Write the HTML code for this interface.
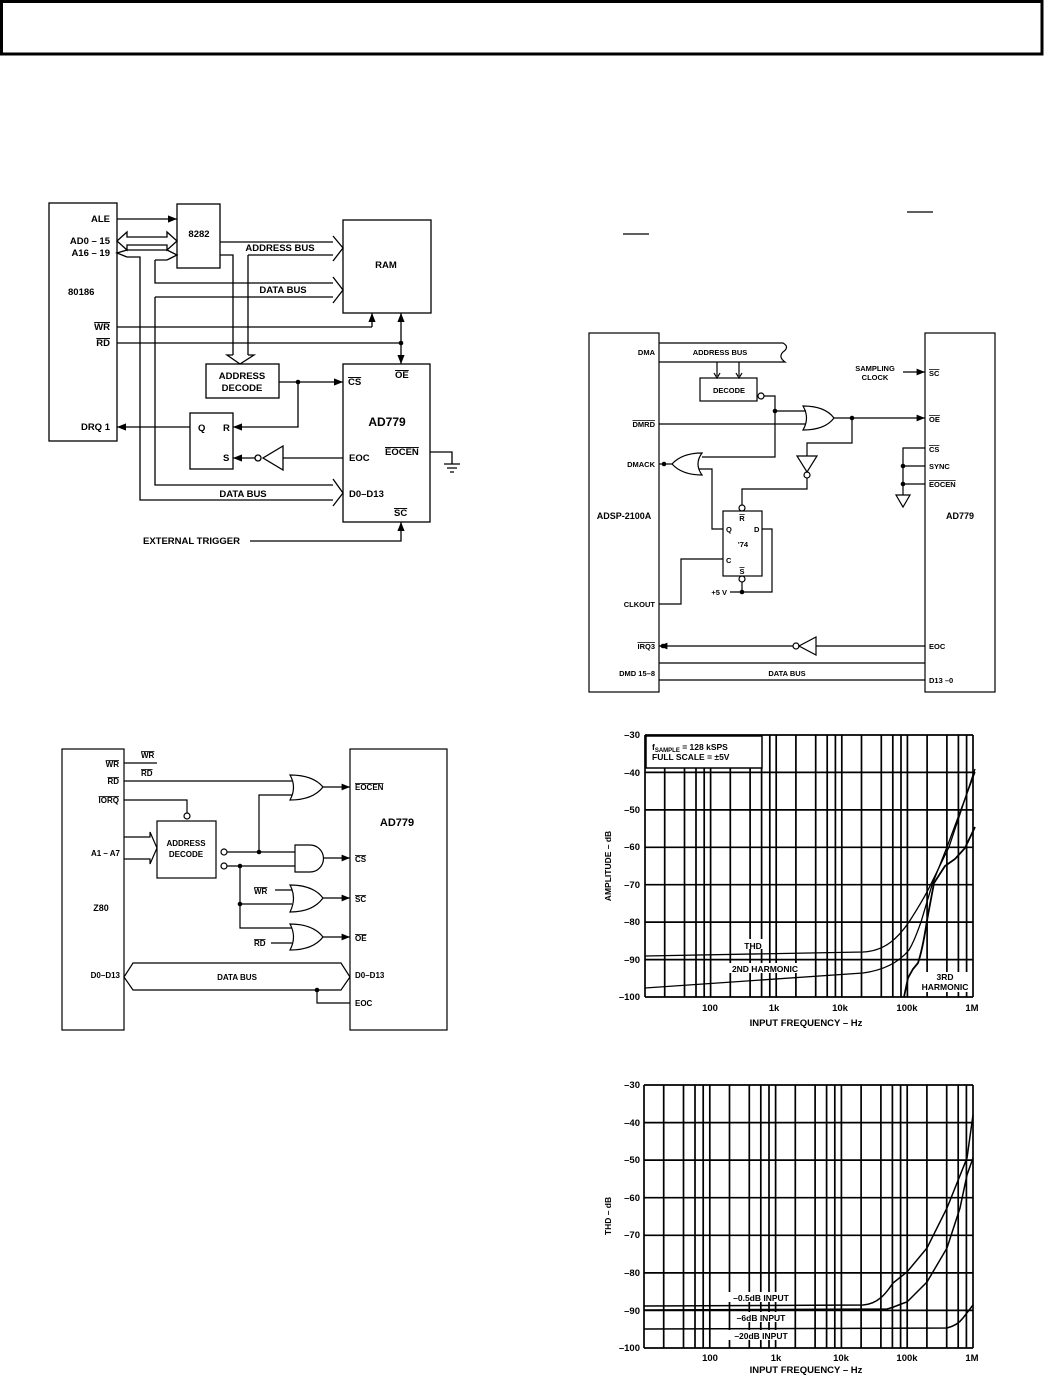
<!DOCTYPE html>
<html><head><meta charset="utf-8"><style>
html,body{margin:0;padding:0;background:#fff}
svg{display:block}
text{font-family:"Liberation Sans",Arial,sans-serif;font-weight:bold;font-size:9.5px;fill:#000}
.ov{text-decoration:overline}
</style></head><body>
<svg width="1044" height="1375" viewBox="0 0 1044 1375" xmlns="http://www.w3.org/2000/svg">
<defs>
<marker id="ar" viewBox="0 0 10 10" refX="10" refY="5" markerWidth="7" markerHeight="7" orient="auto-start-reverse"><path d="M0,1 L10,5 L0,9 Z" fill="#000"/></marker>
<g id="dec" stroke="#000" stroke-width="1.7">
<line x1="0" y1="0" x2="0" y2="263"/><line x1="19.7" y1="0" x2="19.7" y2="263"/><line x1="39.5" y1="0" x2="39.5" y2="263"/><line x1="51" y1="0" x2="51" y2="263"/><line x1="59.2" y1="0" x2="59.2" y2="263"/>
</g>
</defs>

<!-- header -->
<rect x="1.5" y="1.5" width="1040.5" height="52.5" fill="none" stroke="#000" stroke-width="3"/>
<line x1="907" y1="212" x2="933" y2="212" stroke="#000" stroke-width="1.2"/>
<line x1="623" y1="234" x2="649" y2="234" stroke="#000" stroke-width="1.2"/>

<!-- ===== Diagram 1 : 80186 ===== -->
<g fill="none" stroke="#000" stroke-width="1.3">
<rect x="49" y="203" width="68" height="238"/>
<rect x="177" y="204" width="43" height="64"/>
<rect x="343" y="220" width="88" height="93"/>
<rect x="206" y="364" width="73" height="34"/>
<rect x="190" y="413" width="43" height="56"/>
<rect x="343" y="364" width="87" height="158"/>
<line x1="117" y1="219" x2="177" y2="219" marker-end="url(#ar)"/>
<path d="M117,241 L127,232 L127,237 L167,237 L167,232 L177,241 L167,250 L167,245 L127,245 L127,250 Z" fill="#fff"/>
<path d="M127,250 L117,253 L127,257"/>
<path d="M127,250 L167,250 M127,257 L140,257 L140,500 L333,500"/>
<path d="M167,250 L177,255 L167,260"/>
<path d="M155,260 L167,260 M155,260 L155,283 L333,283"/>
<path d="M155,297 L333,297 M155,297 L155,485 L333,485"/>
<path d="M333,277 L343,290 L333,303"/>
<path d="M333,479 L343,493 L333,506"/>
<path d="M220,242 L333,242 M248,255 L333,255 M333,236 L343,248 L333,261"/>
<path d="M220,255 L233,255 L233,355 M248,255 L248,355"/>
<path d="M233,355 L227,355 L240,364 L254,355 L248,355" fill="#fff"/>
<line x1="117" y1="327" x2="372" y2="327"/>
<line x1="372" y1="327" x2="372" y2="313" marker-end="url(#ar)"/>
<line x1="117" y1="343" x2="401" y2="343"/>
<line x1="401" y1="330" x2="401" y2="313" marker-end="url(#ar)"/>
<line x1="401" y1="330" x2="401" y2="364" marker-end="url(#ar)"/>
<line x1="279" y1="382" x2="343" y2="382" marker-end="url(#ar)"/>
<path d="M298,382 L298,427 L233,427" marker-end="url(#ar)"/>
<line x1="190" y1="427" x2="117" y2="427" marker-end="url(#ar)"/>
<path d="M283,446 L283,470 L263,458 Z"/>
<circle cx="258" cy="458" r="3"/>
<line x1="283" y1="458" x2="343" y2="458"/>
<line x1="255" y1="458" x2="233" y2="458" marker-end="url(#ar)"/>
<path d="M430,452 L452,452 L452,464 M444,464 L460,464 M447,468 L457,468 M450,472 L454,472"/>
<path d="M250,541 L401,541 L401,522" marker-end="url(#ar)"/>
</g>
<g fill="#000"><circle cx="298" cy="382" r="2.3"/><circle cx="401" cy="343" r="2.3"/></g>
<g>
<text x="110" y="222" text-anchor="end">ALE</text>
<text x="110" y="244" text-anchor="end">AD0 – 15</text>
<text x="110" y="256" text-anchor="end">A16 – 19</text>
<text x="68" y="295">80186</text>
<text x="110" y="330" text-anchor="end" class="ov">WR</text>
<text x="110" y="346" text-anchor="end" class="ov">RD</text>
<text x="110" y="430" text-anchor="end">DRQ 1</text>
<text x="199" y="237" text-anchor="middle">8282</text>
<text x="280" y="251" text-anchor="middle">ADDRESS BUS</text>
<text x="283" y="293" text-anchor="middle">DATA BUS</text>
<text x="386" y="268" text-anchor="middle">RAM</text>
<text x="242" y="379" text-anchor="middle">ADDRESS</text>
<text x="242" y="391" text-anchor="middle">DECODE</text>
<text x="198" y="431">Q</text><text x="223" y="431">R</text><text x="223" y="461">S</text>
<text x="348" y="385" class="ov">CS</text>
<text x="395" y="378" class="ov">OE</text>
<text x="387" y="426" text-anchor="middle" style="font-size:12px">AD779</text>
<text x="349" y="461">EOC</text>
<text x="385" y="455" class="ov">EOCEN</text>
<text x="349" y="497">D0–D13</text>
<text x="243" y="497" text-anchor="middle">DATA BUS</text>
<text x="394" y="516" class="ov">SC</text>
<text x="143" y="544">EXTERNAL TRIGGER</text>
</g>

<!-- ===== Diagram 2 : ADSP-2100A ===== -->
<g fill="none" stroke="#000" stroke-width="1.2">
<rect x="589" y="333" width="70" height="359"/>
<rect x="925" y="333" width="70" height="359"/>
<path d="M659,343 L783,343 Q790,347 783,352 Q778,357 785,362 L659,362"/>
<path d="M717,362 L717,376 M739,362 L739,376"/>
<path d="M714,373 L717,378 L720,373 M736,373 L739,378 L742,373"/>
<rect x="700" y="378" width="57" height="23"/>
<circle cx="761" cy="396" r="3"/>
<path d="M764,396 L775,396 L775,457 L702,457"/>
<line x1="775" y1="411" x2="806" y2="411"/>
<line x1="659" y1="424" x2="806" y2="424"/>
<path d="M803,406 Q810,418 803,430 Q825,430 834,418 Q825,406 803,406 Z"/>
<line x1="834" y1="418" x2="925" y2="418" marker-end="url(#ar)"/>
<path d="M852,418 L852,443 L807,443 L807,456"/>
<path d="M797,456 L817,456 L807,472 Z"/>
<circle cx="807" cy="475" r="3"/>
<path d="M807,478 L807,489 L742,489 L742,505"/>
<circle cx="742" cy="508" r="3"/>
<path d="M702,453 Q694,464 702,475 Q682,475 672,464 Q682,453 702,453 Z"/>
<line x1="672" y1="464" x2="659" y2="464"/>
<path d="M699,469 L712,469 L712,529 L723,529"/>
<rect x="723" y="511" width="39" height="65"/>
<path d="M762,529 L772,529 L772,592 L730,592"/>
<circle cx="742" cy="579" r="3"/>
<line x1="742" y1="582" x2="742" y2="592"/>
<path d="M723,559 L681,559 L681,604 L659,604"/>
<path d="M816,637 L816,655 L799,646 Z"/>
<circle cx="796" cy="646" r="3"/>
<line x1="816" y1="646" x2="925" y2="646"/>
<line x1="793" y1="646" x2="659" y2="646" marker-end="url(#ar)"/>
<line x1="659" y1="663" x2="925" y2="663"/>
<line x1="659" y1="680" x2="925" y2="680"/>
<line x1="903" y1="372" x2="925" y2="372" marker-end="url(#ar)"/>
<path d="M925,448 L903,448 L903,495 M903,466 L925,466 M903,484 L925,484"/>
<path d="M896,495 L910,495 L903,507 Z"/>
</g>
<g fill="#000"><circle cx="775" cy="411" r="2.3"/><circle cx="852" cy="418" r="2.3"/><circle cx="664" cy="464" r="2.3"/><circle cx="742" cy="592" r="2.3"/><circle cx="663" cy="646" r="2.3"/><circle cx="903" cy="466" r="2.3"/><circle cx="903" cy="484" r="2.3"/></g>
<g style="font-size:7.5px">
<text x="655" y="355" text-anchor="end" style="font-size:7.5px">DMA</text>
<text x="655" y="427" text-anchor="end" class="ov" style="font-size:7.5px">DMRD</text>
<text x="655" y="467" text-anchor="end" style="font-size:7.5px">DMACK</text>
<text x="624" y="519" text-anchor="middle" style="font-size:9px">ADSP-2100A</text>
<text x="655" y="607" text-anchor="end" style="font-size:7.5px">CLKOUT</text>
<text x="655" y="649" text-anchor="end" class="ov" style="font-size:7.5px">IRQ3</text>
<text x="655" y="676" text-anchor="end" style="font-size:7.5px">DMD 15–8</text>
<text x="720" y="355" text-anchor="middle" style="font-size:7.5px">ADDRESS BUS</text>
<text x="729" y="393" text-anchor="middle" style="font-size:7.5px">DECODE</text>
<text x="742" y="521" text-anchor="middle" class="ov" style="font-size:7.5px">R</text>
<text x="726" y="532" style="font-size:7.5px">Q</text>
<text x="754" y="532" style="font-size:7.5px">D</text>
<text x="743" y="547" text-anchor="middle" style="font-size:7.5px">'74</text>
<text x="726" y="563" style="font-size:7.5px">C</text>
<text x="742" y="574" text-anchor="middle" class="ov" style="font-size:7.5px">S</text>
<text x="727" y="595" text-anchor="end" style="font-size:7.5px">+5 V</text>
<text x="787" y="676" text-anchor="middle" style="font-size:7.5px">DATA BUS</text>
<text x="875" y="371" text-anchor="middle" style="font-size:7.5px">SAMPLING</text>
<text x="875" y="380" text-anchor="middle" style="font-size:7.5px">CLOCK</text>
<text x="929" y="376" class="ov" style="font-size:7.5px">SC</text>
<text x="929" y="422" class="ov" style="font-size:7.5px">OE</text>
<text x="929" y="452" class="ov" style="font-size:7.5px">CS</text>
<text x="929" y="469" style="font-size:7.5px">SYNC</text>
<text x="929" y="487" class="ov" style="font-size:7.5px">EOCEN</text>
<text x="960" y="519" text-anchor="middle" style="font-size:9px">AD779</text>
<text x="929" y="649" style="font-size:7.5px">EOC</text>
<text x="929" y="683" style="font-size:7.5px">D13 –0</text>
</g>

<!-- ===== Diagram 3 : Z80 ===== -->
<g fill="none" stroke="#000" stroke-width="1.2">
<rect x="62" y="749" width="62" height="281"/>
<rect x="350" y="749" width="97" height="281"/>
<line x1="124" y1="763" x2="157" y2="763"/>
<line x1="124" y1="781" x2="292" y2="781"/>
<path d="M124,800 L187,800 L187,813"/>
<circle cx="187" cy="816" r="3"/>
<rect x="157" y="821" width="59" height="57"/>
<path d="M124,837 L150,837 L150,832 L157,848 L150,864 L150,859 L124,859"/>
<circle cx="224" cy="852" r="3"/><circle cx="224" cy="866" r="3"/>
<line x1="227" y1="852" x2="295" y2="852"/>
<line x1="227" y1="866" x2="295" y2="866"/>
<path d="M259,852 L259,795 L292,795"/>
<path d="M240,866 L240,928 L292,928 M240,904 L292,904"/>
<line x1="275" y1="890" x2="292" y2="890"/>
<line x1="271" y1="943" x2="292" y2="943"/>
<path d="M290,775 Q297,787 290,800 Q313,800 323,787 Q313,775 290,775 Z"/>
<path d="M295,845 L310,845 A13.5,13.5 0 0 1 310,872 L295,872 Z"/>
<path d="M290,885 Q297,898 290,912 Q313,912 323,898 Q313,885 290,885 Z"/>
<path d="M290,924 Q297,937 290,950 Q313,950 323,937 Q313,924 290,924 Z"/>
<line x1="323" y1="787" x2="350" y2="787" marker-end="url(#ar)"/>
<line x1="323" y1="858" x2="350" y2="858" marker-end="url(#ar)"/>
<line x1="323" y1="898" x2="350" y2="898" marker-end="url(#ar)"/>
<line x1="323" y1="937" x2="350" y2="937" marker-end="url(#ar)"/>
<path d="M124,977 L133,963 L341,963 L350,977 L341,990 L133,990 Z" fill="#fff"/>
<path d="M317,990 L317,1003 L350,1003"/>
</g>
<g fill="#000"><circle cx="259" cy="852" r="2.3"/><circle cx="240" cy="866" r="2.3"/><circle cx="240" cy="904" r="2.3"/><circle cx="317" cy="990" r="2.3"/></g>
<g>
<text x="119" y="767" text-anchor="end" class="ov" style="font-size:8px">WR</text>
<text x="119" y="784" text-anchor="end" class="ov" style="font-size:8px">RD</text>
<text x="119" y="803" text-anchor="end" class="ov" style="font-size:8px">IORQ</text>
<text x="120" y="856" text-anchor="end" style="font-size:8px">A1 – A7</text>
<text x="101" y="911" text-anchor="middle" style="font-size:9px">Z80</text>
<text x="120" y="978" text-anchor="end" style="font-size:8px">D0–D13</text>
<text x="141" y="758" class="ov" style="font-size:8px">WR</text>
<text x="141" y="776" class="ov" style="font-size:8px">RD</text>
<text x="186" y="846" text-anchor="middle" style="font-size:8px">ADDRESS</text>
<text x="186" y="857" text-anchor="middle" style="font-size:8px">DECODE</text>
<text x="254" y="894" class="ov" style="font-size:8px">WR</text>
<text x="254" y="946" class="ov" style="font-size:8px">RD</text>
<text x="237" y="980" text-anchor="middle" style="font-size:8px">DATA BUS</text>
<text x="355" y="790" class="ov" style="font-size:8px">EOCEN</text>
<text x="397" y="826" text-anchor="middle" style="font-size:11px">AD779</text>
<text x="355" y="862" class="ov" style="font-size:8px">CS</text>
<text x="355" y="902" class="ov" style="font-size:8px">SC</text>
<text x="355" y="941" class="ov" style="font-size:8px">OE</text>
<text x="355" y="978" style="font-size:8px">D0–D13</text>
<text x="355" y="1006" style="font-size:8px">EOC</text>
</g>

<!-- ===== Plot 1 ===== -->
<g stroke="#000" stroke-width="1.7" fill="none">
<use href="#dec" transform="translate(645,735) scale(1,0.996)"/>
<use href="#dec" transform="translate(710.6,735) scale(1,0.996)"/>
<use href="#dec" transform="translate(776.2,735) scale(1,0.996)"/>
<use href="#dec" transform="translate(841.8,735) scale(1,0.996)"/>
<use href="#dec" transform="translate(907.4,735) scale(1,0.996)"/>
<line x1="973" y1="735" x2="973" y2="997"/>
<path d="M645,735H973M645,772.4H973M645,809.9H973M645,847.3H973M645,884.7H973M645,922.1H973M645,959.6H973M645,997H973"/>
</g>
<rect x="646" y="736" width="116" height="32" fill="#fff" stroke="#000" stroke-width="1.5"/>
<text x="652" y="750" style="font-size:8.5px">f<tspan style="font-size:6px" dy="2">SAMPLE</tspan><tspan dy="-2"> = 128 kSPS</tspan></text>
<text x="652" y="760" style="font-size:8.5px">FULL SCALE = ±5V</text>
<g fill="#fff"><rect x="740" y="939" width="26" height="10"/><rect x="724" y="963" width="82" height="10"/><rect x="920" y="972" width="50" height="20"/></g>
<g fill="none" stroke="#000" stroke-width="1.3">
<path d="M645,956 L863,952 C885,951 898,938 909,922 C918,908 925,896 929,888 L949,847 L975,769"/>
<path d="M645,988 L863,973 C885,970 900,961 909,950 C915,940 918,930 921,922 L932,885 L947,847 L975,772"/>
<path d="M904,997 L908,978 L913,969 L918,963 C924,945 926,925 928,915 L934,883 L945,866 L955,859 L965,848 L975,827" stroke-width="1.8"/>
</g>
<text x="753" y="949" text-anchor="middle" style="font-size:8.5px">THD</text>
<text x="765" y="972" text-anchor="middle" style="font-size:8.5px">2ND HARMONIC</text>
<text x="945" y="980" text-anchor="middle" style="font-size:8.5px">3RD</text>
<text x="945" y="990" text-anchor="middle" style="font-size:8.5px">HARMONIC</text>
<g style="font-size:9px">
<text x="640" y="738" text-anchor="end">–30</text><text x="640" y="776" text-anchor="end">–40</text><text x="640" y="813" text-anchor="end">–50</text><text x="640" y="850" text-anchor="end">–60</text><text x="640" y="888" text-anchor="end">–70</text><text x="640" y="925" text-anchor="end">–80</text><text x="640" y="963" text-anchor="end">–90</text><text x="640" y="1000" text-anchor="end">–100</text>
</g>
<text transform="translate(611,866) rotate(-90)" text-anchor="middle" style="font-size:8.5px">AMPLITUDE – dB</text>
<g style="font-size:8.5px">
<text x="710" y="1011" text-anchor="middle">100</text><text x="774" y="1011" text-anchor="middle">1k</text><text x="840" y="1011" text-anchor="middle">10k</text><text x="907" y="1011" text-anchor="middle">100k</text><text x="972" y="1011" text-anchor="middle">1M</text>
<text x="806" y="1026" text-anchor="middle">INPUT FREQUENCY – Hz</text>
</g>

<!-- ===== Plot 2 ===== -->
<g stroke="#000" stroke-width="1.7" fill="none">
<use href="#dec" transform="translate(644,1085)"/>
<use href="#dec" transform="translate(709.8,1085)"/>
<use href="#dec" transform="translate(775.6,1085)"/>
<use href="#dec" transform="translate(841.4,1085)"/>
<use href="#dec" transform="translate(907.2,1085)"/>
<line x1="973" y1="1085" x2="973" y2="1348"/>
<path d="M644,1085H973M644,1122.6H973M644,1160.1H973M644,1197.7H973M644,1235.3H973M644,1272.9H973M644,1310.4H973M644,1348H973"/>
</g>
<g fill="#fff"><rect x="728" y="1292" width="66" height="10"/><rect x="735" y="1312" width="52" height="10"/><rect x="728" y="1330" width="66" height="10"/></g>
<g fill="none" stroke="#000" stroke-width="1.5">
<path d="M644,1306 L863,1305 C880,1304 888,1290 893,1283 L907,1272 L927,1248 L947,1208 L967,1158 L973,1115"/>
<path d="M644,1310 L887,1309 C895,1307 900,1304 907,1302 L927,1282 L947,1248 L960,1208 L967,1175 L973,1158"/>
<path d="M644,1329 L947,1328 C955,1326 960,1322 963,1318 L973,1305"/>
</g>
<text x="761" y="1301" text-anchor="middle" style="font-size:8.5px">–0.5dB INPUT</text>
<text x="761" y="1321" text-anchor="middle" style="font-size:8.5px">–6dB INPUT</text>
<text x="761" y="1339" text-anchor="middle" style="font-size:8.5px">–20dB INPUT</text>
<g style="font-size:9px">
<text x="640" y="1088" text-anchor="end">–30</text><text x="640" y="1126" text-anchor="end">–40</text><text x="640" y="1163" text-anchor="end">–50</text><text x="640" y="1201" text-anchor="end">–60</text><text x="640" y="1238" text-anchor="end">–70</text><text x="640" y="1276" text-anchor="end">–80</text><text x="640" y="1314" text-anchor="end">–90</text><text x="640" y="1351" text-anchor="end">–100</text>
</g>
<text transform="translate(611,1216) rotate(-90)" text-anchor="middle" style="font-size:8.5px">THD – dB</text>
<g style="font-size:8.5px">
<text x="710" y="1361" text-anchor="middle">100</text><text x="776" y="1361" text-anchor="middle">1k</text><text x="841" y="1361" text-anchor="middle">10k</text><text x="907" y="1361" text-anchor="middle">100k</text><text x="972" y="1361" text-anchor="middle">1M</text>
<text x="806" y="1373" text-anchor="middle">INPUT FREQUENCY – Hz</text>
</g>
</svg>
</body></html>
